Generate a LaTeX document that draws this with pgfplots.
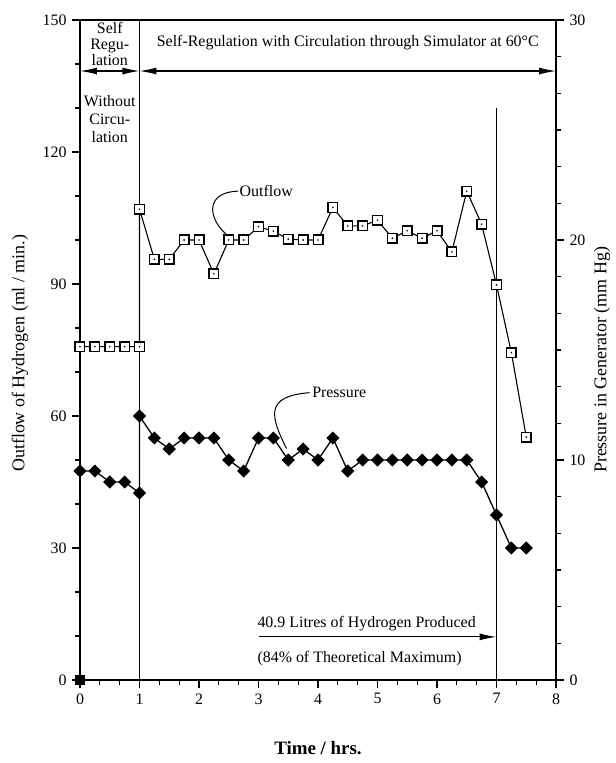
\documentclass[border=0pt]{standalone}
\usepackage{pgfplots}
\pgfplotsset{compat=1.18}
\usepackage{fontspec}
\setmainfont{Liberation Serif}
\usetikzlibrary{arrows.meta}

\pgfdeclareplotmark{sqdot}{%
  \pgfpathrectangle{\pgfqpoint{-\pgfplotmarksize}{-\pgfplotmarksize}}{\pgfqpoint{2\pgfplotmarksize}{2\pgfplotmarksize}}%
  \pgfusepathqfillstroke
  \pgfscope
  \pgfsetfillcolor{black}%
  \pgfpathcircle{\pgfpointorigin}{0.9pt}%
  \pgfusepathqfill
  \endpgfscope
}

\pgfplotstableread{
x y
0 75.75
0.25 75.75
0.5 75.75
0.75 75.75
1 75.75
1 107
1.25 95.6
1.5 95.6
1.75 100
2 100
2.25 92.3
2.5 100
2.75 100
3 103
3.25 102
3.5 100.2
3.75 100
4 100
4.25 107.4
4.5 103.2
4.75 103.2
5 104.5
5.25 100.4
5.5 102.1
5.75 100.4
6 102.1
6.25 97.3
6.5 111.1
6.75 103.6
7 89.8
7.25 74.4
7.5 55.2
}\outflow

\pgfplotstableread{
x y
0 9.5
0.25 9.5
0.5 9
0.75 9
1 8.5
1 12
1.25 11
1.5 10.5
1.75 11
2 11
2.25 11
2.5 10
2.75 9.5
3 11
3.25 11
3.5 10
3.75 10.5
4 10
4.25 11
4.5 9.5
4.75 10
5 10
5.25 10
5.5 10
5.75 10
6 10
6.25 10
6.5 10
6.75 9
7 7.5
7.25 6
7.5 6
}\pressure

\begin{document}
\fontsize{16}{17.5}\selectfont
\begin{tikzpicture}
\pgfplotsset{
  common/.style={
    at={(0,0)}, anchor=south west,
    scale only axis, width=476bp, height=660bp,
    xmin=0, xmax=8,
    tick align=outside,
    major tick length=8bp, minor tick length=5bp,
    axis line style={line width=1.4bp},
    every tick/.style={black, line width=1.1bp},
    tick label style={font=\fontsize{16}{18}\selectfont},
    /pgf/number format/assume math mode=true,
    clip=false,
  }
}
\begin{axis}[common,
  ymin=0, ymax=150,
  xtick={0,...,8}, minor x tick num=2,
  ytick={0,30,...,150}, minor y tick num=2,
  tick pos=left,
  xlabel={\textbf{Time / hrs.}},
  ylabel={Outflow of Hydrogen (ml / min.)},
  xlabel style={at={(axis description cs:0.5,-0.103)}, anchor=center, font=\fontsize{19}{21}\selectfont},
  ylabel style={at={(axis description cs:-0.126,0.495)}, anchor=center, font=\fontsize{18}{20}\selectfont},
]
% vertical markers
\draw[line width=1.4bp] (axis cs:1,0) -- (axis cs:1,150);
\draw[line width=1bp] (axis cs:7,0) -- (axis cs:7,130);
% initial riser and filled point
\addplot[black, line width=2.2bp, mark=square*, mark size=4.2bp, mark repeat=2] coordinates {(0,0) (0,75.75)};
% outflow
\addplot[black, line width=1.1bp, mark=sqdot, mark size=4.8bp, mark options={fill=white, line width=1.4bp}] table[x=x,y=y] {\outflow};
% top annotations
\draw[line width=1.2bp, {Latex[length=17bp,width=7bp]}-{Latex[length=17bp,width=7bp]}] (axis cs:0,138.4) -- (axis cs:1,138.4);
\draw[line width=1.2bp, {Latex[length=17bp,width=7bp]}-{Latex[length=17bp,width=7bp]}] (axis cs:1,138.4) -- (axis cs:8,138.4);
\node[align=center, inner sep=0pt, font=\fontsize{16}{16}\selectfont] at (axis cs:0.5,144.6) {Self\\Regu-\\lation};
\node[align=center, inner sep=0pt, font=\fontsize{16}{18}\selectfont] at (axis cs:0.5,127.5) {Without\\Circu-\\lation};
\node[inner sep=0pt] at (axis cs:4.5,144.8) {Self-Regulation with Circulation through Simulator at 60°C};
% outflow label
\node[anchor=west, inner sep=0pt] at (axis cs:2.68,111.1) {Outflow};
\draw[line width=1bp] (axis cs:2.66,111.1) .. controls (axis cs:2.1,110.9) and (axis cs:2.15,105) .. (axis cs:2.45,101.4);
% pressure label
\node[anchor=west, inner sep=0pt] at (axis cs:3.9,65.3) {Pressure};
\draw[line width=1bp] (axis cs:3.86,65.3) .. controls (axis cs:3.1,64.5) and (axis cs:3.2,60) .. (axis cs:3.47,52.6);
% bottom annotation
\node[anchor=west, inner sep=0pt] at (axis cs:2.98,12.8) {40.9 Litres of Hydrogen Produced};
\draw[line width=1.2bp, -{Latex[length=17bp,width=7bp]}] (axis cs:3.0,9.8) -- (axis cs:7,9.8);
\node[anchor=west, inner sep=0pt] at (axis cs:2.98,4.9) {(84\% of Theoretical Maximum)};
\end{axis}
\begin{axis}[common,
  ymin=0, ymax=30,
  axis x line=none, axis y line*=right,
  ytick={0,10,20,30}, minor y tick num=5,
  ylabel={Pressure in Generator (mm Hg)},
  ylabel style={at={(axis description cs:1.097,0.485)}, anchor=center, font=\fontsize{18}{20}\selectfont},
]
\addplot[black, line width=1.3bp, mark=square*, mark size=4bp, mark options={rotate=45}] table[x=x,y=y] {\pressure};
\end{axis}
\pgfresetboundingbox
\path[use as bounding box] (-80bp,-83bp) rectangle (536bp,680bp);
\end{tikzpicture}
\end{document}
